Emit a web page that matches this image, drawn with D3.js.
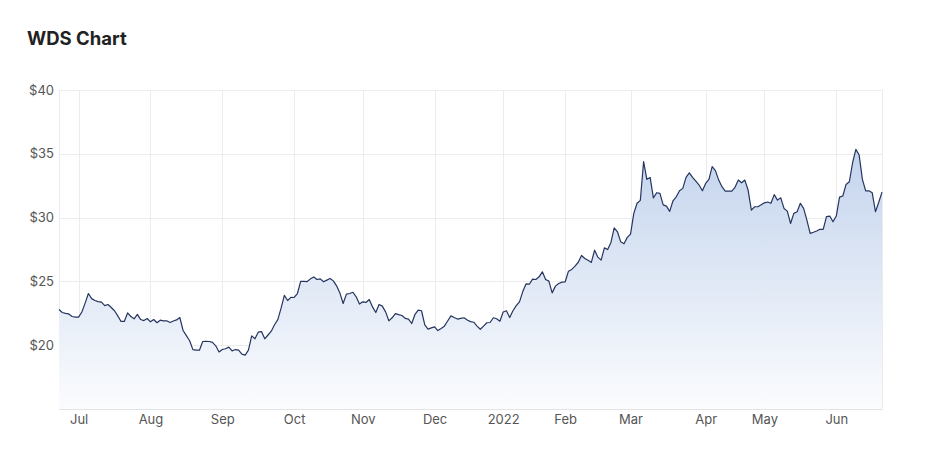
<!DOCTYPE html>
<html>
<head>
<meta charset="utf-8">
<script src="https://cdn.jsdelivr.net/npm/d3@7"></script>
<style>
  html, body { margin: 0; padding: 0; background: #ffffff; }
  svg { display: block; }
</style>
</head>
<body>
<svg id="chart" width="929" height="451"></svg>
<script>
// Daily closing prices (trading days, 23 Jun 2021 – 22 Jun 2022)
const prices = [
  22.80, 22.56, 22.50, 22.45, 22.25, 22.20, 22.20, 22.60, 23.30, 24.05,
  23.65, 23.50, 23.42, 23.38, 23.10, 23.19, 22.95, 22.70, 22.30, 21.86,
  21.86, 22.53, 22.25, 22.07, 22.41, 22.01, 21.93, 22.09, 21.83, 22.01,
  21.76, 21.96, 21.91, 21.91, 21.78, 21.90, 21.98, 22.17, 21.15, 20.75,
  20.35, 19.65, 19.61, 19.61, 20.29, 20.30, 20.29, 20.22, 19.95, 19.47,
  19.66, 19.72, 19.85, 19.55, 19.66, 19.61, 19.30, 19.22, 19.61, 20.73,
  20.50, 21.02, 21.07, 20.50, 20.80, 21.10, 21.60, 22.00, 22.90, 23.90,
  23.50, 23.75, 23.74, 24.05, 25.00, 25.00, 24.99, 25.20, 25.35, 25.15,
  25.20, 24.97, 25.10, 25.23, 25.04, 24.65, 24.10, 23.27, 24.00, 24.05,
  24.15, 23.79, 23.22, 23.40, 23.35, 23.58, 23.00, 22.56, 23.19, 23.06,
  22.61, 21.91, 22.15, 22.48, 22.40, 22.33, 22.10, 22.04, 21.70, 22.41,
  22.75, 22.70, 21.60, 21.26, 21.36, 21.44, 21.15, 21.31, 21.49, 21.90,
  22.30, 22.17, 22.05, 22.10, 22.15, 21.98, 21.85, 21.80, 21.50, 21.25,
  21.50, 21.76, 21.78, 22.15, 22.07, 21.88, 22.60, 22.70, 22.17, 22.70,
  23.10, 23.40, 24.20, 24.80, 24.78, 25.18, 25.15, 25.36, 25.75, 25.15,
  25.02, 24.10, 24.63, 24.84, 24.94, 24.97, 25.80, 25.94, 26.20, 26.50,
  27.03, 26.80, 26.65, 26.49, 27.45, 26.90, 26.67, 27.63, 27.50, 28.05,
  29.20, 28.89, 28.10, 27.95, 28.45, 28.71, 30.33, 31.12, 31.35, 34.38,
  33.00, 33.15, 31.55, 31.95, 31.90, 31.00, 30.90, 30.49, 31.32, 31.63,
  32.10, 32.29, 33.15, 33.51, 33.15, 32.85, 32.55, 32.10, 32.68, 33.00,
  33.99, 33.68, 32.94, 32.42, 32.08, 32.08, 32.08, 32.37, 32.94, 32.73,
  32.94, 32.16, 30.59, 30.85, 30.85, 31.00, 31.16, 31.22, 31.12, 31.80,
  31.37, 31.55, 30.72, 30.51, 29.54, 30.33, 30.46, 31.12, 30.72, 29.80,
  28.76, 28.85, 28.95, 29.08, 29.08, 30.07, 30.12, 29.67, 30.12, 31.60,
  31.69, 32.60, 32.81, 34.30, 35.35, 34.90, 33.00, 32.10, 32.10, 31.95,
  30.46, 31.20, 32.00
];

// Month ticks: label and the trading-day index where each month starts
const monthLabels = ["Jul", "Aug", "Sep", "Oct", "Nov", "Dec", "2022", "Feb", "Mar", "Apr", "May", "Jun"];
const monthIndex  = [6, 28, 50, 72, 93, 115, 136, 155, 175, 198, 216, 238];

// Y axis ticks
const yTicks = [20, 25, 30, 35, 40];
const yDomain = [15, 40];

const title = "WDS Chart";

const svg = d3.select("#chart");
const margin = { left: 59, right: 47, top: 90, bottom: 42 };
const W = 929, H = 451;
const x0 = margin.left, x1 = W - margin.right, y0 = H - margin.bottom, y1 = margin.top;

const x = d3.scaleLinear().domain([0, prices.length - 1]).range([x0, x1]);
const y = d3.scaleLinear().domain(yDomain).range([y0, y1]);

// Title
svg.append("text")
  .attr("x", 27).attr("y", 45)
  .attr("font-family", "Inter, 'Noto Sans', sans-serif")
  .attr("font-size", 18.5).attr("font-weight", 700)
  .attr("fill", "#222222")
  .text(title);

// Gradient
const defs = svg.append("defs");
const grad = defs.append("linearGradient")
  .attr("id", "areaGrad")
  .attr("gradientUnits", "userSpaceOnUse")
  .attr("x1", 0).attr("x2", 0)
  .attr("y1", y(d3.max(prices))).attr("y2", y0);
grad.append("stop").attr("offset", "0%").attr("stop-color", "#c4d4ed");
grad.append("stop").attr("offset", "100%").attr("stop-color", "#fbfcfe");

// Horizontal grid
svg.append("g")
  .selectAll("line")
  .data(yTicks)
  .join("line")
  .attr("x1", x0).attr("x2", x1)
  .attr("y1", d => Math.round(y(d)) + 0.5).attr("y2", d => Math.round(y(d)) + 0.5)
  .attr("stroke", "#ececec").attr("stroke-width", 1);

// Vertical grid
svg.append("g")
  .selectAll("line")
  .data(monthIndex)
  .join("line")
  .attr("x1", d => Math.round(x(d)) + 0.5).attr("x2", d => Math.round(x(d)) + 0.5)
  .attr("y1", y1).attr("y2", y0)
  .attr("stroke", "#ececec").attr("stroke-width", 1);

// Side borders
[x0, x1].forEach(v => {
  svg.append("line")
    .attr("x1", Math.round(v) + 0.5).attr("x2", Math.round(v) + 0.5)
    .attr("y1", y1).attr("y2", y0)
    .attr("stroke", "#ececec");
});

// Area
const area = d3.area()
  .x((d, i) => x(i))
  .y0(y0)
  .y1(d => y(d));
svg.append("path")
  .datum(prices)
  .attr("d", area)
  .attr("fill", "url(#areaGrad)");

// Line
const line = d3.line()
  .x((d, i) => x(i))
  .y(d => y(d));
svg.append("path")
  .datum(prices)
  .attr("d", line)
  .attr("fill", "none")
  .attr("stroke", "#25355f")
  .attr("stroke-width", 1.2)
  .attr("stroke-linejoin", "round");

// Bottom axis
const xAxis = d3.axisBottom(x)
  .tickValues(monthIndex)
  .tickFormat((d, i) => monthLabels[i])
  .tickSize(0)
  .tickPadding(6);
const gx = svg.append("g")
  .attr("transform", `translate(0,${y0})`)
  .call(xAxis);
gx.select(".domain").attr("stroke", "#e3e3e3");
gx.selectAll("text")
  .attr("font-family", "Inter, 'Noto Sans', sans-serif")
  .attr("font-size", 13)
  .attr("fill", "#555555");

// Left axis
const yAxis = d3.axisLeft(y)
  .tickValues(yTicks)
  .tickFormat(d => "$" + d)
  .tickSize(0)
  .tickPadding(5);
const gy = svg.append("g")
  .attr("transform", `translate(${x0},0)`)
  .call(yAxis);
gy.select(".domain").remove();
gy.selectAll("text")
  .attr("font-family", "Inter, 'Noto Sans', sans-serif")
  .attr("font-size", 13)
  .attr("fill", "#555555");
</script>
</body>
</html>
